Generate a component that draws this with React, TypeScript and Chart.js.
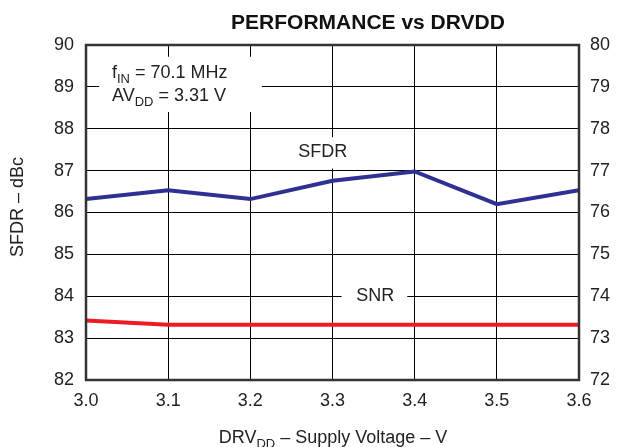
import React, { useEffect, useRef } from "react";
import { Chart, registerables } from "chart.js";

Chart.register(...registerables);

const voltages = [3.0, 3.1, 3.2, 3.3, 3.4, 3.5, 3.6];
const sfdrValues = [86.32, 86.53, 86.32, 86.76, 86.98, 86.2, 86.53];
const snrValues = [73.42, 73.32, 73.32, 73.32, 73.32, 73.32, 73.32];
const leftTicks = [82, 83, 84, 85, 86, 87, 88, 89, 90];
const rightTicks = [72, 73, 74, 75, 76, 77, 78, 79, 80];

const FONT = "'Liberation Sans', Arial, Helvetica, sans-serif";
const TEXT = "#222222";

type Part = { t: string; sub?: boolean };

function drawRich(
  ctx: CanvasRenderingContext2D,
  parts: Part[],
  x: number,
  y: number,
  size: number,
  align: "left" | "center"
) {
  const subSize = size * 0.72;
  let total = 0;
  const widths = parts.map((p) => {
    ctx.font = `${p.sub ? subSize : size}px ${FONT}`;
    const w = ctx.measureText(p.t).width;
    total += w;
    return w;
  });
  let cx = align === "center" ? x - total / 2 : x;
  ctx.textAlign = "left";
  ctx.textBaseline = "alphabetic";
  parts.forEach((p, i) => {
    ctx.font = `${p.sub ? subSize : size}px ${FONT}`;
    ctx.fillText(p.t, cx, p.sub ? y + size * 0.3 : y);
    cx += widths[i];
  });
}

const overlayPlugin = {
  id: "overlay",
  beforeDatasetsDraw(chart: any) {
    const ctx: CanvasRenderingContext2D = chart.ctx;
    const xs = chart.scales.x;
    const yl = chart.scales.y;
    ctx.save();
    ctx.fillStyle = "#ffffff";
    // annotation box
    ctx.fillRect(xs.getPixelForValue(3.016), yl.getPixelForValue(89.72), xs.getPixelForValue(3.214) - xs.getPixelForValue(3.016), yl.getPixelForValue(88.4) - yl.getPixelForValue(89.72));
    // SFDR label box
    ctx.fillRect(xs.getPixelForValue(3.25), yl.getPixelForValue(87.8), xs.getPixelForValue(3.328) - xs.getPixelForValue(3.25), yl.getPixelForValue(87.05) - yl.getPixelForValue(87.8));
    // SNR label box
    ctx.fillRect(xs.getPixelForValue(3.311), yl.getPixelForValue(84.28), xs.getPixelForValue(3.391) - xs.getPixelForValue(3.311), yl.getPixelForValue(83.72) - yl.getPixelForValue(84.28));

    ctx.fillStyle = TEXT;
    drawRich(ctx, [{ t: "f" }, { t: "IN", sub: true }, { t: " = 70.1 MHz" }], 112, 77.5, 18, "left");
    drawRich(ctx, [{ t: "AV" }, { t: "DD", sub: true }, { t: " = 3.31 V" }], 112, 100.5, 18, "left");

    ctx.font = `18px ${FONT}`;
    ctx.textAlign = "center";
    ctx.textBaseline = "middle";
    ctx.fillText("SFDR", xs.getPixelForValue(3.288), yl.getPixelForValue(87.45));
    ctx.fillText("SNR", xs.getPixelForValue(3.352), yl.getPixelForValue(84.0));
    ctx.restore();
  },
  afterDraw(chart: any) {
    const ctx: CanvasRenderingContext2D = chart.ctx;
    const a = chart.chartArea;
    ctx.save();
    ctx.strokeStyle = "#333333";
    ctx.lineWidth = 2.5;
    ctx.strokeRect(a.left, a.top, a.right - a.left, a.bottom - a.top);

    ctx.fillStyle = "#111111";
    ctx.font = `bold 21px ${FONT}`;
    ctx.textAlign = "center";
    ctx.textBaseline = "middle";
    ctx.fillText("PERFORMANCE vs DRVDD", 368, 23);

    ctx.fillStyle = TEXT;
    drawRich(ctx, [{ t: "DRV" }, { t: "DD", sub: true }, { t: " \u2013 Supply Voltage \u2013 V" }], 333, 443, 18, "center");

    ctx.translate(18, 207);
    ctx.rotate(-Math.PI / 2);
    ctx.font = `18px ${FONT}`;
    ctx.textAlign = "center";
    ctx.textBaseline = "middle";
    ctx.fillText("SFDR \u2013 dBc", 0, 0);
    ctx.restore();
  },
};

export default function App() {
  const ref = useRef<HTMLCanvasElement | null>(null);
  useEffect(() => {
    if (!ref.current) return;
    const chart = new Chart(ref.current, {
      type: "line",
      data: {
        datasets: [
          {
            label: "SFDR",
            data: voltages.map((v, i) => ({ x: v, y: sfdrValues[i] })),
            borderColor: "#2e3192",
            borderWidth: 4,
            pointRadius: 0,
            tension: 0,
            yAxisID: "y",
          },
          {
            label: "SNR",
            data: voltages.map((v, i) => ({ x: v, y: snrValues[i] })),
            borderColor: "#ed1c24",
            borderWidth: 4,
            pointRadius: 0,
            tension: 0,
            yAxisID: "y1",
          },
        ],
      },
      options: {
        animation: false,
        responsive: true,
        maintainAspectRatio: false,
        layout: { padding: { top: 45, left: 0, right: 0, bottom: 0 } },
        plugins: { legend: { display: false }, tooltip: { enabled: false }, title: { display: false } },
        scales: {
          x: {
            type: "linear",
            min: 3.0,
            max: 3.6,
            afterBuildTicks: (s: any) => {
              s.ticks = voltages.map((v) => ({ value: v }));
            },
            afterFit: (s: any) => {
              s.height = 67;
            },
            ticks: {
              autoSkip: false,
              maxRotation: 0,
              padding: 10,
              color: TEXT,
              font: { family: FONT, size: 18 },
              callback: (v: any) => Number(v).toFixed(1),
            },
            grid: { color: "#000000", lineWidth: 1, drawTicks: false },
            border: { display: false },
          },
          y: {
            type: "linear",
            position: "left",
            min: 82,
            max: 90,
            afterBuildTicks: (s: any) => {
              s.ticks = leftTicks.map((v) => ({ value: v }));
            },
            afterFit: (s: any) => {
              s.width = 86;
            },
            ticks: {
              padding: 12,
              color: TEXT,
              font: { family: FONT, size: 18 },
              callback: (v: any) => String(v),
            },
            grid: { color: "#000000", lineWidth: 1, drawTicks: false },
            border: { display: false },
          },
          y1: {
            type: "linear",
            position: "right",
            min: 72,
            max: 80,
            afterBuildTicks: (s: any) => {
              s.ticks = rightTicks.map((v) => ({ value: v }));
            },
            afterFit: (s: any) => {
              s.width = 64;
            },
            ticks: {
              padding: 11,
              color: TEXT,
              font: { family: FONT, size: 18 },
              callback: (v: any) => String(v),
            },
            grid: { display: false, drawTicks: false },
            border: { display: false },
          },
        },
      },
      plugins: [overlayPlugin],
    });
    return () => chart.destroy();
  }, []);

  return (
    <div style={{ position: "absolute", left: 0, top: 0, width: 643, height: 447, background: "#ffffff" }}>
      <canvas ref={ref} />
    </div>
  );
}
